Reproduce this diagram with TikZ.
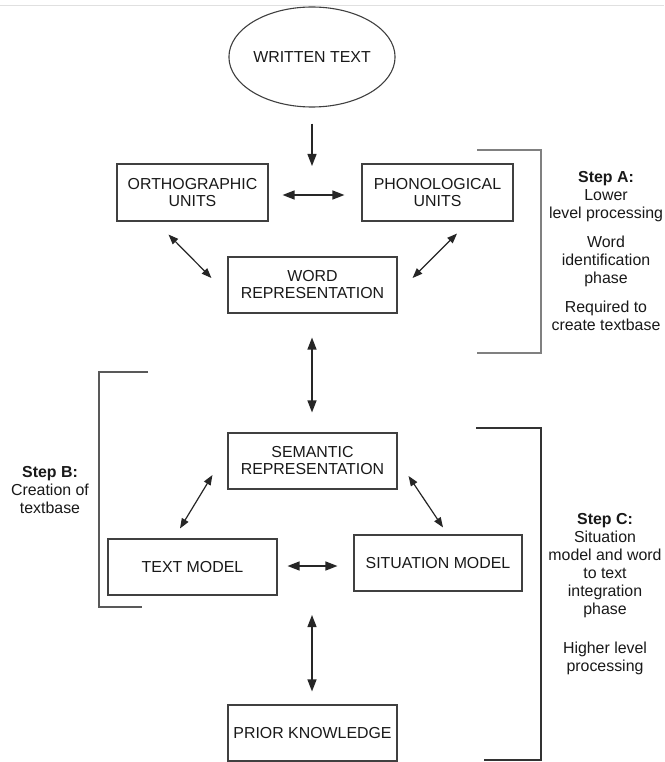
\documentclass[tikz,border=0pt]{standalone}
\usepackage{fontspec}
\setmainfont{Liberation Sans}
\usetikzlibrary{arrows.meta,shapes.geometric}
\begin{document}
\begin{tikzpicture}[x=1pt,y=-1pt,
  every node/.style={font=\fontsize{15.9}{17}\selectfont, inner sep=0pt, text=black!90},
  box/.style={draw=black!75, line width=1.1pt, rectangle, align=center,
              minimum width=169pt, minimum height=56pt},
  sidetext/.style={align=center, font=\fontsize{15.9}{18}\selectfont},
  link/.style={draw=black!85, line width=1.3pt,
               {Triangle[length=12pt,width=9pt]}-{Triangle[length=12pt,width=9pt]}},
  onelink/.style={draw=black!85, line width=1.3pt, -{Triangle[length=12pt,width=9pt]}},
  slant/.style={draw=black!85, line width=1.2pt,
               {Triangle[length=10pt,width=7.5pt]}-{Triangle[length=10pt,width=7.5pt]}},
  bracket/.style={line width=1.6pt}
]
\useasboundingbox (0,0) rectangle (664,762);
\fill[white] (0,0) rectangle (664,762);
\draw[black!12, line width=1.5pt] (0,5.5) -- (664,5.5);

% nodes
\node[ellipse, draw=black!75, line width=1.1pt, minimum width=154pt, minimum height=100pt]
  (written) at (312,57) {WRITTEN TEXT};
\node[box, minimum width=151pt, minimum height=57pt] (ortho) at (192.5,192.5) {ORTHOGRAPHIC\\UNITS};
\node[box, minimum width=151pt, minimum height=57pt] (phono) at (437.5,192.5) {PHONOLOGICAL\\UNITS};
\node[box] (word) at (312.5,285) {WORD\\REPRESENTATION};
\node[box] (sem) at (312.5,461) {SEMANTIC\\REPRESENTATION};
\node[box] (textm) at (192.5,567) {TEXT MODEL};
\node[box, minimum width=168pt] (situ) at (438,563) {SITUATION MODEL};
\node[box] (prior) at (312.5,733) {PRIOR KNOWLEDGE};

\coordinate (hub) at (312,166);
\coordinate (below) at (312,615);

% connectors
\draw[onelink, shorten <=16pt] (written.south) -- (hub);
\draw[link] ([shift={(14,2.5)}]ortho.east) -- ([shift={(-17,2.5)}]phono.west);
\draw[slant] ([shift={(-24,13)}]ortho.south) -- ([shift={(-16,-7)}]word.west);
\draw[slant] ([shift={(19.5,12)}]phono.south) -- ([shift={(15,-7)}]word.east);
\draw[link] ([shift={(-0.5,24)}]word.south) -- ([shift={(-0.5,-20)}]sem.north);
\draw[slant] ([shift={(-15,14)}]sem.west) -- ([shift={(-12.5,-10)}]textm.north);
\draw[slant] ([shift={(11,15)}]sem.east) -- ([shift={(5,-7)}]situ.north);
\draw[link] ([shift={(10,-1)}]textm.east) -- ([shift={(-16,3)}]situ.west);
\draw[link] (below) -- ([shift={(-0.5,-13)}]prior.north);

% brackets grouping the steps
\draw[bracket, black!50] (477,150) -- (541,150) -- (541,353) -- (477,353);
\draw[bracket, black!65] (148,372) -- (99,372) -- (99,607) -- (142,607);
\draw[bracket, black!80, line width=1.9pt] (476,428) -- (541,428) -- (541,760) -- (484,760);

% step descriptions
\node[sidetext] (stepA) at (606,251.5)
  {\textbf{Step A:}\\Lower\\level processing\\[11pt]Word\\identification\\phase\\[11pt]Required to\\create textbase};
\node[sidetext] (stepB) at (50,490) {\textbf{Step B:}\\Creation of\\textbase};
\node[sidetext] (stepC) at (605,594.5)
  {\textbf{Step C:}\\Situation\\model and word\\to text\\integration\\phase\\[21pt]Higher level\\processing};
\end{tikzpicture}
\end{document}
